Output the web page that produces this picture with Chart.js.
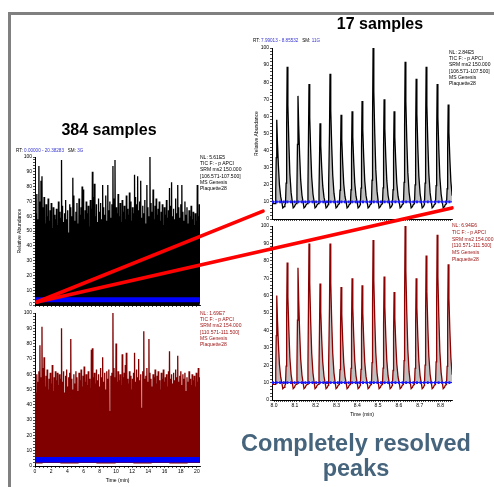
<!DOCTYPE html>
<html>
<head>
<meta charset="utf-8">
<script src="https://cdn.jsdelivr.net/npm/chart.js@4.4.1/dist/chart.umd.min.js"></script>
<style>
body{margin:0;width:494px;height:487px;background:#fff;position:relative;overflow:hidden;font-family:"Liberation Sans",Arial,sans-serif}
canvas{position:absolute}
.t{position:absolute;white-space:nowrap}
.frame{position:absolute;left:8px;top:12px;width:490px;height:480px;border-top:3px solid #808080;border-left:3px solid #808080}
.big{font-weight:bold;font-size:16px;line-height:16px;transform:translateX(-50%)}
.info{font-size:5px;line-height:6.2px}
.rt{font-size:4.6px;line-height:5px}
.rt b{font-weight:normal;color:#3535d0}
.red{color:#a01818}
.claim{position:absolute;left:216px;top:431px;width:280px;text-align:center;font-weight:bold;font-size:23.5px;line-height:25px;color:#46657d}
</style>
</head>
<body>
<div class="frame"></div>
<canvas id="cA"></canvas>
<canvas id="cB"></canvas>
<canvas id="cC"></canvas>
<canvas id="cD"></canvas>
<canvas id="overlay" width="494" height="487" style="left:0;top:0"></canvas>

<div class="t big" style="left:109px;top:122px">384 samples</div>
<div class="t big" style="left:380px;top:16px">17 samples</div>
<div class="t rt" style="left:16px;top:148px">RT: <b>0.00000 - 20.38283</b>&nbsp;&nbsp; SM: <b>3G</b></div>
<div class="t rt" style="left:253px;top:38px">RT: <b>7.99013 - 8.85532</b>&nbsp;&nbsp; SM: <b>11G</b></div>
<div class="t info" style="left:200px;top:154px">NL: 5.61E5<br>TIC F: - p APCI<br>SRM ms2 150.000<br>[106.571-107.500]<br>MS Genesis<br>Plaquette28</div>
<div class="t info red" style="left:200px;top:310px">NL: 1.69E7<br>TIC F: - p APCI<br>SRM ms2 154.000<br>[110.571-111.500]<br>MS Genesis<br>Plaquette28</div>
<div class="t info" style="left:449px;top:49px">NL: 2.84E5<br>TIC F: - p APCI<br>SRM ms2 150.000<br>[106.571-107.500]<br>MS Genesis<br>Plaquette28</div>
<div class="t info red" style="left:452px;top:222px;line-height:6.8px">NL: 6.94E6<br>TIC F: - p APCI<br>SRM ms2 154.000<br>[110.571-111.500]<br>MS Genesis<br>Plaquette28</div>
<div class="claim">Completely resolved<br>peaks</div>

<script>
// retention time windows (min)
const leftRange = [0, 20.38283];
const rightRange = [7.99013, 8.85532];

// tick labels
const yTicks = [0, 10, 20, 30, 40, 50, 60, 70, 80, 90, 100];
const leftXTicks = [0, 2, 4, 6, 8, 10, 12, 14, 16, 18, 20];
const rightXTicks = [8.0, 8.1, 8.2, 8.3, 8.4, 8.5, 8.6, 8.7, 8.8];

// 384-sample run, peak heights (% relative abundance), read across the trace
const leftTopHeights = [
  62, 75, 58, 94, 70, 84, 87, 66, 73, 55,
  68, 60, 72, 57, 64, 69, 52, 66, 61, 58,
  65, 54, 70, 63, 59, 98, 67, 56, 62, 71,
  58, 64, 49, 68, 66, 60, 86, 74, 57, 63,
  69, 55, 72, 61, 66, 80, 78, 58, 64, 70,
  62, 67, 53, 71, 65, 90, 73, 82, 60, 68,
  56, 72, 63, 69, 58, 81, 66, 61, 74, 57,
  81, 64, 70, 59, 68, 94, 72, 98, 66, 62,
  75, 60, 69, 56, 71, 63, 67, 58, 74, 65,
  61, 76, 70, 57, 66, 62, 88, 73, 68, 87,
  64, 70, 84, 59, 67, 62, 71, 55, 81, 66,
  60, 100, 69, 63, 78, 58, 67, 72, 61, 65,
  70, 57, 63, 68, 54, 66, 61, 71, 59, 64,
  79, 67, 83, 60, 65, 58, 72, 62, 81, 66,
  59, 68, 81, 63, 57, 70, 61, 66, 55, 64,
  60, 67, 58, 63, 54, 62, 57, 81, 60, 68
];
const leftBottomHeights = [
  48, 60, 55, 62, 79, 58, 91, 64, 71, 52,
  59, 63, 50, 57, 61, 54, 66, 49, 58, 62,
  56, 61, 53, 60, 57, 90, 55, 62, 48, 59,
  63, 52, 58, 61, 83, 57, 50, 60, 54, 62,
  58, 49, 61, 56, 63, 52, 59, 65, 55, 60,
  53, 62, 57, 51, 76, 77, 58, 61, 54, 63,
  56, 60, 52, 64, 58, 71, 55, 61, 50, 62,
  57, 63, 36, 59, 61, 100, 64, 58, 80, 55,
  62, 56, 60, 53, 73, 58, 61, 66, 74, 57,
  54, 62, 59, 50, 57, 61, 74, 55, 63, 58,
  70, 56, 60, 38, 62, 88, 57, 59, 64, 55,
  83, 61, 57, 52, 60, 58, 63, 54, 59, 62,
  56, 50, 61, 57, 63, 55, 58, 60, 52, 62,
  75, 57, 60, 54, 61, 56, 63, 58, 72, 55,
  59, 62, 53, 60, 57, 61, 49, 58, 55, 62,
  57, 53, 60, 56, 59, 52, 61, 55, 64, 58
];
const leftFirstPeak = 0.1, leftLastPeak = 20.3;

// 17-sample zoom: apex times and heights
const rightPeakTimes = [8.013, 8.063, 8.115, 8.168, 8.221, 8.269, 8.322, 8.375, 8.423, 8.476, 8.529, 8.577, 8.630, 8.683, 8.731, 8.784, 8.837];
const rightTopHeights = [58, 89, 72, 79, 56, 85, 61, 63, 69, 100, 70, 63, 92, 82, 89, 79, 67];
const rightBottomHeights = [60, 79, 76, 90, 67, 90, 65, 70, 66, 92, 71, 62, 100, 70, 83, 95, 78];

// peak shape seen in the zoom (offset from apex in min, fraction of height)
const peakShapeDt = [-0.008, -0.005, -0.0025, 0, 0.0035, 0.008, 0.013, 0.019, 0.025];
const peakShapeFrac = [0, 0.15, 0.55, 1, 0.72, 0.45, 0.22, 0.08, 0.01];
const tailDt = [0.029, 0.035, 0.039];
const tailLevel = [6.5, 7.2, 8.4];
const rightBase = 9;
const markerLevel = 10;

// red guide lines: start in the 384 run, end in the 17 zoom (data coords)
const guideStart = [0.25, 2];
const guideEnds = [[7.947, 4.6], [8.855, 6.5]];

Chart.defaults.font.family = '"Liberation Sans", Arial, sans-serif';
Chart.defaults.color = '#000';

const YW = 18, PT = 4, PR = 4;

function place(id, box, xh) {
  const c = document.getElementById(id);
  c.width = box.r - box.l + YW + PR;
  c.height = box.b - box.t + PT + xh;
  c.style.left = (box.l - YW) + 'px';
  c.style.top = (box.t - PT) + 'px';
  return c;
}

function steps(a, b, s) {
  const out = [];
  for (let i = 0; a + i * s <= b + 1e-9; i++) out.push(Math.round((a + i * s) * 1000) / 1000);
  return out;
}

function yScale(title) {
  return {
    type: 'linear', min: 0, max: 100,
    afterFit: s => { s.width = YW; },
    afterBuildTicks: s => { s.ticks = steps(0, 100, 2).map(v => ({value: v})); },
    ticks: {autoSkip: false, font: {size: 5}, padding: 1, callback: v => yTicks.includes(v) ? String(v) : ''},
    grid: {drawOnChartArea: false, tickLength: 2, color: '#000', lineWidth: 0.7},
    border: {color: '#000', width: 1},
    title: {display: !!title, text: title, font: {size: 5}, padding: 0}
  };
}

function xScale(range, minor, labels, fmt, xh) {
  return {
    type: 'linear', min: range[0], max: range[1],
    afterFit: s => { s.height = xh; },
    afterBuildTicks: s => { s.ticks = steps(labels[0], range[1], minor).map(v => ({value: v})); },
    ticks: {autoSkip: false, maxRotation: 0, font: {size: 5}, padding: 1,
      callback: v => labels && labels.some(l => Math.abs(l - v) < 1e-6) && fmt ? fmt(v) : ''},
    grid: {drawOnChartArea: false, tickLength: 2, color: '#000', lineWidth: 0.7},
    border: {color: '#000', width: 1},
    title: {display: !!fmt, text: 'Time (min)', font: {size: 5}, padding: {top: 0, bottom: 0}}
  };
}

function makeChart(canvas, datasets, xs, ys) {
  return new Chart(canvas, {
    type: 'line',
    data: {datasets},
    options: {
      responsive: false, animation: false, parsing: false, normalized: true,
      layout: {padding: {top: PT, right: PR, left: 0, bottom: 0}, autoPadding: false},
      plugins: {legend: {display: false}, tooltip: {enabled: false}},
      elements: {point: {radius: 0}, line: {tension: 0}},
      scales: {x: xs, y: ys}
    }
  });
}

function zigzag(heights, base) {
  const n = heights.length, dt = (leftLastPeak - leftFirstPeak) / (n - 1);
  const pts = [{x: leftRange[0], y: base}];
  heights.forEach((h, i) => {
    const t = leftFirstPeak + i * dt;
    pts.push({x: t - dt / 2, y: base}, {x: t, y: h});
  });
  pts.push({x: leftLastPeak + dt / 2, y: base});
  return pts;
}

function peakTrace(heights) {
  const pts = [{x: rightRange[0], y: rightBase}];
  rightPeakTimes.forEach((t, i) => {
    const h = heights[i];
    peakShapeDt.forEach((d, k) => pts.push({x: t + d, y: rightBase + peakShapeFrac[k] * (h - rightBase)}));
    tailDt.forEach((d, k) => pts.push({x: t + d, y: tailLevel[k]}));
  });
  return pts;
}

function leftBand(y, w) {
  return {data: [{x: leftRange[0], y}, {x: leftRange[1], y}], borderColor: '#0000ff', borderWidth: w, fill: false};
}
function markers() {
  return [
    {data: [{x: rightRange[0], y: markerLevel}, {x: rightRange[1], y: markerLevel}], borderColor: '#1a1aff', borderWidth: 2.6, borderDash: [2, 1.6], fill: false},
    {data: [{x: rightRange[0], y: markerLevel}, {x: rightRange[1], y: markerLevel}], borderColor: '#0000ff', borderWidth: 1, fill: false}
  ];
}

const boxA = {l: 35, r: 200, t: 157, b: 307};
const boxB = {l: 35, r: 200, t: 313, b: 466};
const boxC = {l: 272, r: 452, t: 48, b: 221};
const boxD = {l: 272, r: 452, t: 226, b: 400};

const cA = place('cA', boxA, 2);
const cB = place('cB', boxB, 18);
const cC = place('cC', boxC, 2);
const cD = place('cD', boxD, 18);

const chartA = makeChart(cA, [
  leftBand(3.6, 5),
  {data: zigzag(leftTopHeights, 1), borderColor: '#000', borderWidth: 1.3, backgroundColor: '#000', fill: 'origin'}
], xScale(leftRange, 0.5, leftXTicks, null, 2), yScale('Relative Abundance'));

const chartB = makeChart(cB, [
  leftBand(4.1, 5.5),
  {data: zigzag(leftBottomHeights, 2), borderColor: '#800000', borderWidth: 1.3, backgroundColor: '#800000', fill: {value: 2}}
], xScale(leftRange, 0.5, leftXTicks, v => String(v), 18), yScale(''));

const chartC = makeChart(cC, [
  ...markers(),
  {data: peakTrace(rightTopHeights), borderColor: '#000', borderWidth: 1.3,
   fill: {target: {value: markerLevel}, above: '#bfbfbf', below: 'rgba(0,0,0,0)'}}
], xScale(rightRange, 0.01, rightXTicks, null, 2), yScale('Relative Abundance'));

const chartD = makeChart(cD, [
  ...markers(),
  {data: peakTrace(rightBottomHeights), borderColor: '#8b0000', borderWidth: 1.3,
   fill: {target: {value: markerLevel}, above: '#bfbfbf', below: 'rgba(0,0,0,0)'}}
], xScale(rightRange, 0.01, rightXTicks, v => v.toFixed(1), 18), yScale(''));

// red guide lines across the two charts
function pagePoint(chart, canvas, p) {
  return [canvas.offsetLeft + chart.scales.x.getPixelForValue(p[0]),
          canvas.offsetTop + chart.scales.y.getPixelForValue(p[1])];
}
const octx = document.getElementById('overlay').getContext('2d');
octx.strokeStyle = '#ff0000';
octx.lineWidth = 3.6;
octx.lineCap = 'round';
const s = pagePoint(chartA, cA, guideStart);
guideEnds.forEach(e => {
  const p = pagePoint(chartC, cC, e);
  octx.beginPath();
  octx.moveTo(s[0], s[1]);
  octx.lineTo(p[0], p[1]);
  octx.stroke();
});
</script>
</body>
</html>
